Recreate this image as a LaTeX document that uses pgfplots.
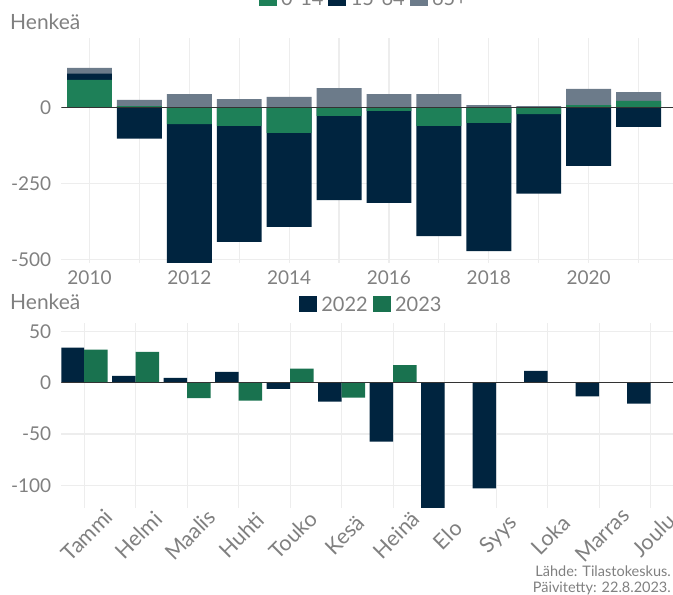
\documentclass[border=0pt]{standalone}
\usepackage{pgfplots}
\pgfplotsset{compat=1.18}
\usepackage{fontspec}
\setmainfont{Lato}

\definecolor{cgreen}{HTML}{1E8058}
\definecolor{cgreenb}{HTML}{19724F}
\definecolor{cnavy}{HTML}{00243F}
\definecolor{cgray}{HTML}{6C7B8A}
\definecolor{ctext}{HTML}{808080}
\definecolor{cgrid}{HTML}{EDEDED}
\definecolor{czero}{HTML}{333333}

\pgfplotsset{
  panel/.style={
    scale only axis, width=611.6pt,
    axis line style={draw=none}, tick style={draw=none},
    grid=major, major grid style={cgrid, line width=1.1pt},
    tick label style={font=\fontsize{19}{22}\selectfont, text=ctext, inner sep=0pt},
    yticklabel style={xshift=-10pt},
    legend image code/.code={\fill[##1] (0pt,-7.4pt) rectangle (17pt,7.6pt);},
    legend style={draw=none, fill=none, legend columns=-1, inner sep=0pt,
      font=\fontsize{20}{24}\selectfont, text=ctext,
      nodes={inner xsep=5pt, inner ysep=0pt, text depth=0pt, text height=14.4pt},
      cells={anchor=west}},
  },
}

\begin{document}
\begin{tikzpicture}

% yearly change by age group (cumulative bar tops, positive and negative stacks)
\begin{axis}[panel, at={(61.4pt,332pt)}, anchor=south west, height=225pt,
  xmin=2009.437, xmax=2021.69, ymin=-510, ymax=227,
  xtick={2010,...,2021}, xticklabels={2010,,2012,,2014,,2016,,2018,,2020,},
  xticklabel style={yshift=-8pt},
  ytick={-500,-250,0}, yticklabels={-500,-250,0},
  legend style={at={(0.497,1)}, anchor=south, yshift=32pt}]
\addlegendimage{cgreen}\addlegendentry{0-14}
\addlegendimage{cnavy}\addlegendentry{15-64}
\addlegendimage{cgray}\addlegendentry{65+}
% 65+ on top of the positive stack
\addplot[ybar, bar width=0.9, bar shift=0pt, fill=cgray, draw=none, forget plot] coordinates {
  (2010,129) (2011,24) (2012,43) (2013,27) (2014,34) (2015,63)
  (2016,43) (2017,43) (2018,7.5) (2019,4) (2020,60) (2021,50)};
% 15-64
\addplot[ybar, bar width=0.9, bar shift=0pt, fill=cnavy, draw=none, forget plot] coordinates {
  (2010,110) (2011,-103) (2012,-520) (2013,-441) (2014,-392) (2015,-304)
  (2016,-313) (2017,-422) (2018,-471) (2019,-283) (2020,-192) (2021,-64)};
% 0-14
\addplot[ybar, bar width=0.9, bar shift=0pt, fill=cgreen, draw=none, forget plot] coordinates {
  (2010,90) (2011,4) (2012,-55) (2013,-61) (2014,-84) (2015,-28)
  (2016,-12) (2017,-61) (2018,-51) (2019,-22) (2020,7) (2021,21)};
\addplot[czero, line width=1.5pt, mark=none, forget plot] coordinates {(2009.437,0) (2021.69,0)};
\end{axis}

% monthly change 2022 / 2023
\begin{axis}[panel, at={(61.4pt,87pt)}, anchor=south west, height=185pt,
  xmin=0.559, xmax=12.435, ymin=-122, ymax=58,
  xtick={1,...,12},
  xticklabels={Tammi,Helmi,Maalis,Huhti,Touko,Kesä,Heinä,Elo,Syys,Loka,Marras,Joulu},
  xticklabel style={xshift=3pt, yshift=-27pt, rotate=45, anchor=center,
    font=\fontsize{21.5}{24}\selectfont},
  ytick={-100,-50,0,50}, yticklabels={-100,-50,0,50},
  legend style={at={(0.509,1)}, anchor=south, yshift=11pt}]
\addlegendimage{cnavy}\addlegendentry{2022}
\addlegendimage{cgreenb}\addlegendentry{2023}
\addplot[ybar, bar width=0.456, bar shift=-0.228, fill=cnavy, draw=none, forget plot] coordinates {
  (1,34) (2,6.5) (3,4.5) (4,10.5) (5,-6) (6,-18.5)
  (7,-57.5) (8,-125) (9,-103) (10,11.5) (11,-13.5) (12,-20.5)};
\addplot[ybar, bar width=0.456, bar shift=0.228, fill=cgreenb, draw=none, forget plot] coordinates {
  (1,32) (2,30) (3,-15) (4,-17.5) (5,13.5) (6,-14.5) (7,17)};
\addplot[czero, line width=1.5pt, mark=none, forget plot] coordinates {(0.559,0) (12.435,0)};
\end{axis}

\node[anchor=base west, inner sep=0pt, text=ctext, font=\fontsize{21}{24}\selectfont] at (10pt,565.5pt) {Henkeä};
\node[anchor=base west, inner sep=0pt, text=ctext, font=\fontsize{21}{24}\selectfont] at (10pt,285pt) {Henkeä};
\node[anchor=base east, inner sep=0pt, text=ctext, font=\fontsize{14.5}{17}\selectfont] at (671pt,18.5pt) {Lähde: Tilastokeskus.};
\node[anchor=base east, inner sep=0pt, text=ctext, font=\fontsize{14.5}{17}\selectfont] at (671pt,2pt) {Päivitetty: 22.8.2023.};

\pgfresetboundingbox
\useasboundingbox (0pt,0pt) rectangle (673pt,595pt);
\end{tikzpicture}
\end{document}
